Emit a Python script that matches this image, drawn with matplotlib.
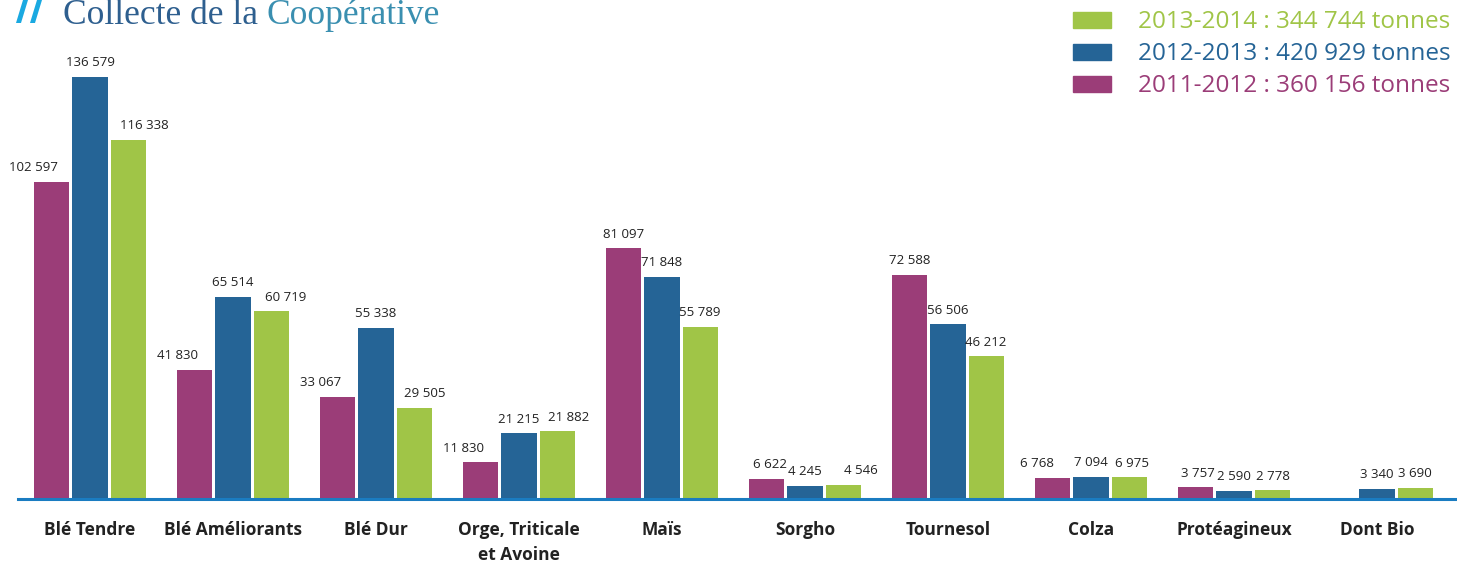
import matplotlib.pyplot as plt
import numpy as np
from matplotlib.patches import Rectangle, Polygon

categories = ["Blé Tendre", "Blé Améliorants", "Blé Dur", "Orge, Triticale\net Avoine",
              "Maïs", "Sorgho", "Tournesol", "Colza", "Protéagineux", "Dont Bio"]
s_2011 = [102597, 41830, 33067, 11830, 81097, 6622, 72588, 6768, 3757, None]
s_2012 = [136579, 65514, 55338, 21215, 71848, 4245, 56506, 7094, 2590, 3340]
s_2013 = [116338, 60719, 29505, 21882, 55789, 4546, 46212, 6975, 2778, 3690]
legend_labels = ["2013-2014 : 344 744 tonnes", "2012-2013 : 420 929 tonnes", "2011-2012 : 360 156 tonnes"]

PURPLE = "#9b3d78"
BLUE = "#256496"
GREEN = "#a0c547"

# small horizontal nudges (pixels) for value labels, as in the original layout
nudge_2011 = [-18, -17, -17, -17, 0, 3, 0, -16, 2, 0]
nudge_2013 = [16, 15, 11, 12, 0, 18, 0, 3, 1, 0]

W, H = 1457, 565
fig = plt.figure(figsize=(W / 100, H / 100), dpi=100)
ax = fig.add_axes([18 / W, 66 / H, 1 - 18 / W, 499 / H])

x = np.arange(len(categories))
w = 0.245
off = 0.266
fmt = lambda v: f"{v:,}".replace(",", " ")

series = [(s_2011, PURPLE, -off, nudge_2011), (s_2012, BLUE, 0, [0] * 10), (s_2013, GREEN, off, nudge_2013)]
for vals, col, dx, nudge in series:
    for i, v in enumerate(vals):
        if v is None:
            continue
        ax.bar(x[i] + dx, v, width=w, color=col, zorder=2)
        ax.annotate(fmt(v), (x[i] + dx, v), xytext=(nudge[i] * 0.72, 5.5), textcoords="offset points",
                    ha="center", va="bottom", fontsize=9.5, family="Open Sans", color="#222222")

ax.set_xlim((18 - 90) / 143, (W - 90) / 143)
ax.set_ylim(0, 499 / 0.00309)
for s in ["top", "right", "left"]:
    ax.spines[s].set_visible(False)
ax.spines["bottom"].set_color("#1a7cc1")
ax.spines["bottom"].set_linewidth(2.2)
ax.set_yticks([])
ax.set_xticks(x)
ax.set_xticklabels(categories, fontsize=12.5, fontweight="bold", family="Open Sans", color="#222222",
                   linespacing=1.45, va="top")
ax.tick_params(axis="x", length=0, pad=16)

# title: "//" mark drawn as two slanted bars (pixel coords from top-left)
def px(pts):
    return [(a / W, 1 - b / H) for a, b in pts]

for shift in (0, 14):
    quad = [(16 + shift, 23), (21 + shift, 23), (28 + shift, 0), (23 + shift, 0)]
    fig.add_artist(Polygon(px(quad), closed=True, transform=fig.transFigure,
                           color="#1aa9e1", lw=0))

t1 = fig.text(63 / W, 1 - 24 / H, "Collecte de la ", fontsize=25.5, family="Liberation Serif",
              color="#2e5f8f", va="baseline")
fig.canvas.draw()
bb = t1.get_window_extent()
fig.text(bb.x1 / W, 1 - 24 / H, "Coopérative", fontsize=25.5, family="Liberation Serif",
         color="#3a8fb0", va="baseline")

# legend
for j, (lab, col) in enumerate(zip(legend_labels, [GREEN, BLUE, PURPLE])):
    yc = 20 + 32 * j
    fig.add_artist(Rectangle((1073 / W, 1 - (yc + 8) / H), 38 / W, 16 / H,
                             transform=fig.transFigure, color=col))
    fig.text(1138 / W, 1 - (yc + 2) / H, lab, fontsize=17.5, family="Open Sans", color=col, va="center")

fig.savefig("out.png", dpi=100)
